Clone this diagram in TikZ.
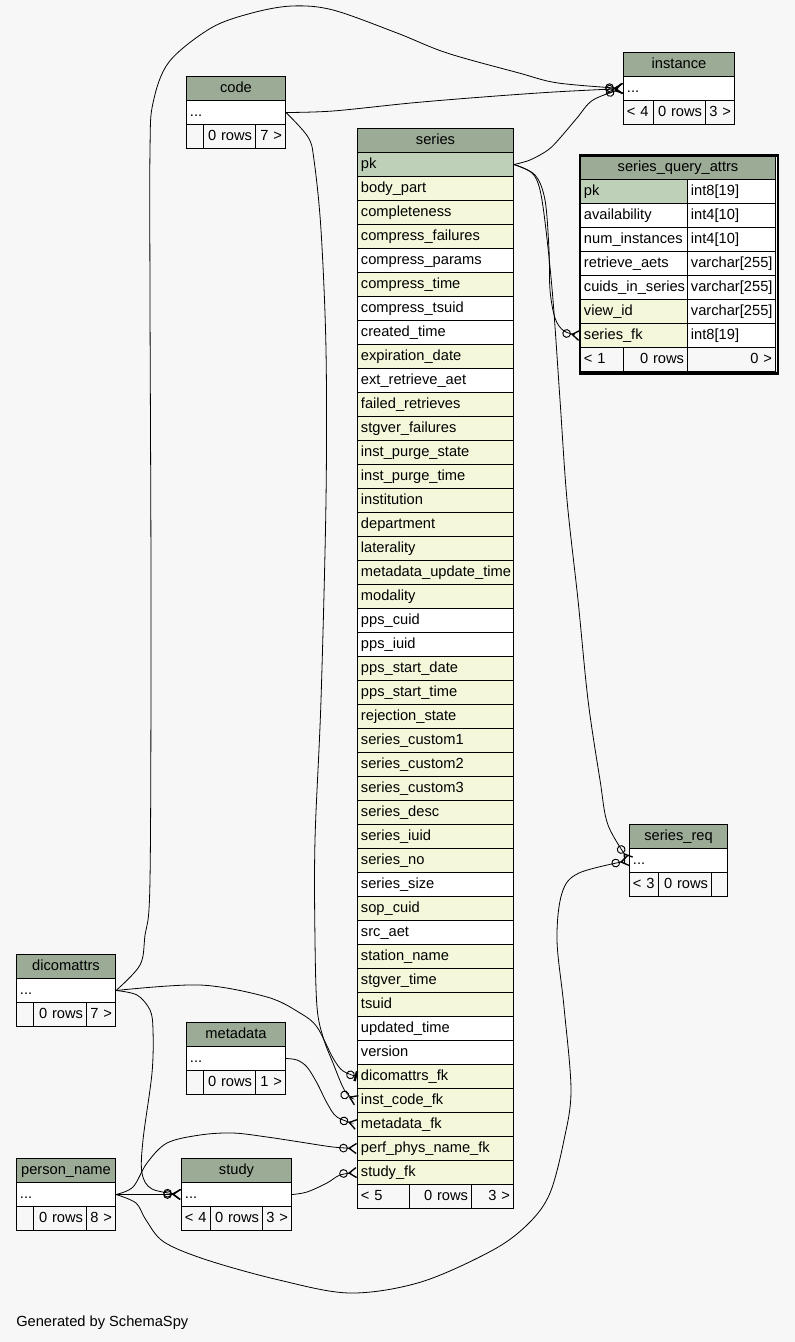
\documentclass[tikz,border=0pt]{standalone}
\usepackage{fontspec}
\setmainfont{Liberation Sans}
\usetikzlibrary{arrows.meta}

\definecolor{bgc}{HTML}{F7F7F7}
\definecolor{headc}{HTML}{9BAB96}
\definecolor{pkc}{HTML}{BED1B8}
\definecolor{idxc}{HTML}{F4F7DA}
\definecolor{plainc}{HTML}{FFFFFF}

\tikzset{
  cellbase/.style={draw=black, line width=0.75pt, anchor=north west,
    minimum height=18pt, inner xsep=2.6pt, inner ysep=0pt,
    text height=8pt, text depth=2.5pt,
    font=\fontsize{11pt}{13pt}\selectfont},
  framebox/.style={draw=black, line width=1.9pt, anchor=north west,
    inner sep=0pt},
  conn/.style={draw=black, line width=0.6pt},
  tomany/.style={-{Circle[open,length=6.5pt,width=6.5pt,line width=0.7pt]Straight Barb[reversed,length=5.5pt,width=7.5pt,line width=1pt]}},
  toone/.style={-{Circle[open,length=6.5pt,width=6.5pt,line width=0.7pt]Bar[width=7.5pt,line width=1.8pt]}},
}

% one table cell: [alignment]{name}{x}{y}{width}{fill}{text}, all in pixels
\newcommand{\tcell}[7][align=left]{%
  \pgfmathsetmacro{\tcw}{#5*0.75-5.2}%
  \node[cellbase,#1,fill=#6,text width=\tcw pt] (#2) at (#3,#4) {#7};}

\begin{document}
\begin{tikzpicture}[x=0.75pt,y=-0.75pt]
\fill[bgc] (0,0) rectangle (795,1342);
\useasboundingbox (0,0) rectangle (795,1342);

% ---------- instance ----------
\tcell[align=center]{inst-head}{623}{52}{111}{headc}{instance}
\tcell{inst-row}{623}{76}{111}{plainc}{...}
\tcell{inst-f1}{623}{100}{30}{bgc}{< 4}
\tcell[align=right]{inst-f2}{653}{100}{52}{bgc}{0 rows}
\tcell[align=right]{inst-f3}{705}{100}{29}{bgc}{3 >}

% ---------- code ----------
\tcell[align=center]{code-head}{186}{76}{99}{headc}{code}
\tcell{code-row}{186}{100}{99}{plainc}{...}
\tcell{code-f1}{186}{124}{17}{bgc}{}
\tcell[align=right]{code-f2}{203}{124}{52}{bgc}{0 rows}
\tcell[align=right]{code-f3}{255}{124}{30}{bgc}{7 >}

% ---------- series ----------
\tcell[align=center]{s-head}{357}{128}{156}{headc}{series}
\foreach \nm/\txt/\fc [count=\i from 0] in {
  s-pk/pk/pkc, s-bodypart/body\_part/idxc, s-completeness/completeness/idxc,
  s-cfail/compress\_failures/idxc, s-cparams/compress\_params/plainc,
  s-ctime/compress\_time/idxc, s-ctsuid/compress\_tsuid/plainc,
  s-created/created\_time/plainc, s-expdate/expiration\_date/idxc,
  s-extaet/ext\_retrieve\_aet/plainc, s-failret/failed\_retrieves/idxc,
  s-stgfail/stgver\_failures/idxc, s-ipstate/inst\_purge\_state/idxc,
  s-iptime/inst\_purge\_time/idxc, s-institution/institution/idxc,
  s-department/department/idxc, s-laterality/laterality/idxc,
  s-mdtime/metadata\_update\_time/idxc, s-modality/modality/idxc,
  s-ppscuid/pps\_cuid/plainc, s-ppsiuid/pps\_iuid/plainc,
  s-ppsdate/pps\_start\_date/idxc, s-ppstime/pps\_start\_time/idxc,
  s-rejstate/rejection\_state/idxc, s-cust1/series\_custom1/idxc,
  s-cust2/series\_custom2/idxc, s-cust3/series\_custom3/idxc,
  s-desc/series\_desc/idxc, s-iuid/series\_iuid/idxc, s-no/series\_no/idxc,
  s-size/series\_size/plainc, s-sopcuid/sop\_cuid/idxc, s-srcaet/src\_aet/plainc,
  s-station/station\_name/idxc, s-stgtime/stgver\_time/idxc, s-tsuid/tsuid/idxc,
  s-updated/updated\_time/plainc, s-version/version/plainc,
  s-dicomfk/dicomattrs\_fk/idxc, s-codefk/inst\_code\_fk/idxc,
  s-metafk/metadata\_fk/idxc, s-perffk/perf\_phys\_name\_fk/idxc,
  s-studyfk/study\_fk/idxc}
{ \tcell{\nm}{357}{152+24*\i}{156}{\fc}{\txt} }
\tcell{s-f1}{357}{1184}{52}{bgc}{< 5}
\tcell[align=right]{s-f2}{409}{1184}{62}{bgc}{0 rows}
\tcell[align=right]{s-f3}{471}{1184}{42}{bgc}{3 >}

% ---------- series_query_attrs (highlighted) ----------
\tcell[align=center]{sqa-head}{580}{155}{195}{headc}{series\_query\_attrs}
\foreach \nm/\txt/\ty/\fc [count=\i from 0] in {
  sqa-pk/pk/int8[19]/pkc, sqa-avail/availability/int4[10]/plainc,
  sqa-num/num\_instances/int4[10]/plainc, sqa-aets/retrieve\_aets/varchar[255]/plainc,
  sqa-cuids/cuids\_in\_series/varchar[255]/plainc, sqa-view/view\_id/varchar[255]/idxc,
  sqa-fk/series\_fk/int8[19]/idxc}
{ \tcell{\nm}{580}{179+24*\i}{107}{\fc}{\txt}
  \tcell{\nm-t}{687}{179+24*\i}{88}{plainc}{\ty} }
\tcell{sqa-f1}{580}{347}{43}{bgc}{< 1}
\tcell[align=right]{sqa-f2}{623}{347}{64}{bgc}{0 rows}
\tcell[align=right]{sqa-f3}{687}{347}{88}{bgc}{0 >}
\node[framebox, minimum width=148.5pt, minimum height=163.5pt] (sqa-frame) at (578.5,154) {};

% ---------- series_req ----------
\tcell[align=center]{sreq-head}{629}{824}{98}{headc}{series\_req}
\tcell{sreq-row}{629}{848}{98}{plainc}{...}
\tcell{sreq-f1}{629}{872}{29}{bgc}{< 3}
\tcell[align=right]{sreq-f2}{658}{872}{53}{bgc}{0 rows}
\tcell{sreq-f3}{711}{872}{16}{bgc}{}

% ---------- dicomattrs ----------
\tcell[align=center]{dic-head}{16}{954}{99}{headc}{dicomattrs}
\tcell{dic-row}{16}{978}{99}{plainc}{...}
\tcell{dic-f1}{16}{1002}{17}{bgc}{}
\tcell[align=right]{dic-f2}{33}{1002}{53}{bgc}{0 rows}
\tcell[align=right]{dic-f3}{86}{1002}{29}{bgc}{7 >}

% ---------- metadata ----------
\tcell[align=center]{meta-head}{186}{1022}{99}{headc}{metadata}
\tcell{meta-row}{186}{1046}{99}{plainc}{...}
\tcell{meta-f1}{186}{1070}{17}{bgc}{}
\tcell[align=right]{meta-f2}{203}{1070}{52}{bgc}{0 rows}
\tcell[align=right]{meta-f3}{255}{1070}{30}{bgc}{1 >}

% ---------- person_name ----------
\tcell[align=center]{pn-head}{16}{1158}{99}{headc}{person\_name}
\tcell{pn-row}{16}{1182}{99}{plainc}{...}
\tcell{pn-f1}{16}{1206}{17}{bgc}{}
\tcell[align=right]{pn-f2}{33}{1206}{53}{bgc}{0 rows}
\tcell[align=right]{pn-f3}{86}{1206}{29}{bgc}{8 >}

% ---------- study ----------
\tcell[align=center]{st-head}{181}{1158}{110}{headc}{study}
\tcell{st-row}{181}{1182}{110}{plainc}{...}
\tcell{st-f1}{181}{1206}{29}{bgc}{< 4}
\tcell[align=right]{st-f2}{210}{1206}{52}{bgc}{0 rows}
\tcell[align=right]{st-f3}{262}{1206}{29}{bgc}{3 >}

% ---------- relationships ----------
% dicomattrs -> instance (long arc over the top)
\draw[conn,tomany] plot[smooth,tension=0.55] coordinates {(dic-row.east) (140,965) (145,935) (150,880) (151,600) (150,300) (150,150) (153,103) (169,62) (211,28) (252,13) (292,6) (333,10) (397,33) (447,53) (519,73) (558,83) (inst-row.west)};
% code -> instance
\draw[conn,tomany] plot[smooth,tension=0.55] coordinates {(code-row.east) (333,111) (411,103) (483,97) (554,92) (inst-row.west)};
% series -> instance
\draw[conn,tomany] plot[smooth,tension=0.55] coordinates {(s-pk.east) (530,160) (548,150) (560,138) (577,118) (593,100) (inst-row.west)};
% series -> series_query_attrs
\draw[conn,tomany] plot[smooth,tension=0.55] coordinates {(s-pk.east) (535,175) (545,200) (549,250) (550,290) (555,318) (564,331) (sqa-fk.west)};
% series -> series_req
\draw[conn,tomany] plot[smooth,tension=0.55] coordinates {(s-pk.east) (532,173) (540,190) (546,230) (553,300) (560,400) (567,500) (578,600) (588,700) (600,780) (608,825) (sreq-row.west)};
% code -> series.inst_code_fk
\draw[conn,tomany] plot[smooth,tension=0.55] coordinates {(code-row.east) (308,137) (314,160) (321,230) (326,350) (326,500) (321,700) (315,840) (315,940) (317,1007) (323,1037) (333,1063) (345,1091) (s-codefk.west)};
% dicomattrs -> series.dicomattrs_fk
\draw[conn,toone] plot[smooth,tension=0.55] coordinates {(dic-row.east) (200,985) (267,997) (300,1013) (317,1027) (333,1058) (343,1071) (s-dicomfk.west)};
% dicomattrs -> study
\draw[conn,tomany] plot[smooth,tension=0.55] coordinates {(dic-row.east) (137,995) (150,1010) (153,1030) (152,1073) (143,1140) (142,1173) (152,1189) (st-row.west)};
% metadata -> series.metadata_fk
\draw[conn,tomany] plot[smooth,tension=0.55] coordinates {(meta-row.east) (297,1060) (307,1067) (317,1083) (327,1103) (337,1117) (s-metafk.west)};
% person_name -> series.perf_phys_name_fk
\draw[conn,tomany] plot[smooth,tension=0.55] coordinates {(pn-row.east) (133,1187) (147,1163) (167,1143) (200,1135) (233,1133) (267,1137) (300,1142) (333,1147) (s-perffk.west)};
% person_name -> study
\draw[conn,tomany] (pn-row.east) -- (st-row.west);
% study -> series.study_fk
\draw[conn,tomany] plot[smooth,tension=0.55] coordinates {(st-row.east) (307,1192) (327,1183) (340,1175) (s-studyfk.west)};
% person_name -> series_req (loop below series)
\draw[conn,tomany] plot[smooth,tension=0.55] coordinates {(pn-row.east) (136,1203) (146,1220) (164,1242) (207,1260) (279,1280) (350,1293) (421,1282) (493,1250) (529,1223) (550,1193) (564,1140) (571,1090) (564,1007) (557,940) (562,893) (579,873) (sreq-row.west)};

% ---------- credit line ----------
\node[anchor=base west, inner sep=0pt, font=\fontsize{11pt}{13pt}\selectfont] (credit) at (16,1326) {Generated by SchemaSpy};
\end{tikzpicture}
\end{document}
